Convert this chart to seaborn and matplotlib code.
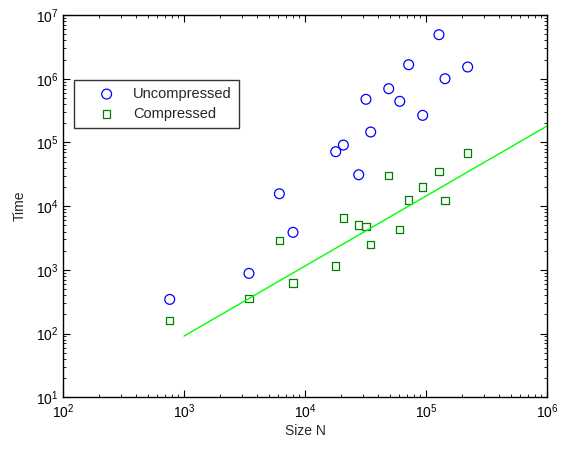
import matplotlib
matplotlib.use("Agg")
import matplotlib.pyplot as plt
import seaborn as sns
import numpy as np
import pandas as pd
from matplotlib.ticker import LogLocator, NullFormatter, FixedLocator

# ---- data ----
size_n = [762, 3443, 6138, 7960, 17950, 20750, 27800, 31900, 34900,
          49200, 60700, 71900, 93900, 128000, 143600, 221000]
time_uncompressed = [344, 881, 15660, 3880, 71450, 91000, 31100, 475000, 145700,
                     697000, 442000, 1660000, 266000, 4910000, 1000000, 1527000]
time_compressed = [161, 352, 2904, 621, 1148, 6500, 5050, 4750, 2512,
                   30000, 4265, 12470, 19950, 35200, 12330, 68200]
fit_x = [1e3, 1e6]
fit_y = [91.4, 180800]
x_ticks = [1e2, 1e3, 1e4, 1e5, 1e6]
y_ticks = [1e1, 1e2, 1e3, 1e4, 1e5, 1e6, 1e7]

sns.set_style("white")
plt.rcParams["font.family"] = ["Liberation Sans", "DejaVu Sans"]
plt.rcParams["mathtext.fontset"] = "custom"
plt.rcParams["mathtext.rm"] = "Liberation Sans"
plt.rcParams["mathtext.it"] = "Liberation Sans:italic"
plt.rcParams["mathtext.bf"] = "Liberation Sans:bold"

fig = plt.figure(figsize=(5.68, 4.49), dpi=100)
ax = fig.add_axes([63 / 568, 1 - 397.3 / 449, 484 / 568, 382.3 / 449])

df = pd.DataFrame({"N": size_n, "unc": time_uncompressed, "comp": time_compressed})

sns.scatterplot(data=df, x="N", y="unc", ax=ax, marker="o", s=50,
                facecolor="none", edgecolor="#0000ff", linewidth=0.9,
                label="Uncompressed")
sns.scatterplot(data=df, x="N", y="comp", ax=ax, marker="s", s=28,
                facecolor="none", edgecolor="#008000", linewidth=0.9,
                label="Compressed")
sns.lineplot(x=fit_x, y=fit_y, ax=ax, color="#00ff00", linewidth=1.0,
             legend=False, label="_nolegend_")

ax.set_xscale("log")
ax.set_yscale("log")
ax.set_xlim(1e2, 1e6)
ax.set_ylim(1e1, 1e7)

ax.xaxis.set_major_locator(FixedLocator(x_ticks))
ax.yaxis.set_major_locator(FixedLocator(y_ticks))
ax.xaxis.set_minor_locator(LogLocator(base=10, subs=np.arange(2, 10), numticks=20))
ax.yaxis.set_minor_locator(LogLocator(base=10, subs=np.arange(2, 10), numticks=20))
ax.xaxis.set_minor_formatter(NullFormatter())
ax.yaxis.set_minor_formatter(NullFormatter())

ax.tick_params(which="both", direction="in", top=True, right=True,
               bottom=True, left=True, colors="black", labelsize=10)
ax.tick_params(which="major", length=5, width=0.8)
ax.tick_params(which="minor", length=2.5, width=0.6)
for sp in ax.spines.values():
    sp.set_color("black")
    sp.set_linewidth(1.0)

ax.set_xlabel("Size N", fontsize=10, labelpad=2)
ax.set_ylabel("Time", fontsize=10, labelpad=6)

leg = ax.legend(loc="upper left", bbox_to_anchor=(0.0227, 0.831),
                fontsize=10.5, frameon=True, fancybox=False, shadow=False,
                borderpad=0.5, handlelength=3.48, handletextpad=0.05,
                labelspacing=0.4, borderaxespad=0)
leg.get_frame().set_edgecolor("black")
leg.get_frame().set_linewidth(1.0)

fig.savefig("out.png", dpi=100)
